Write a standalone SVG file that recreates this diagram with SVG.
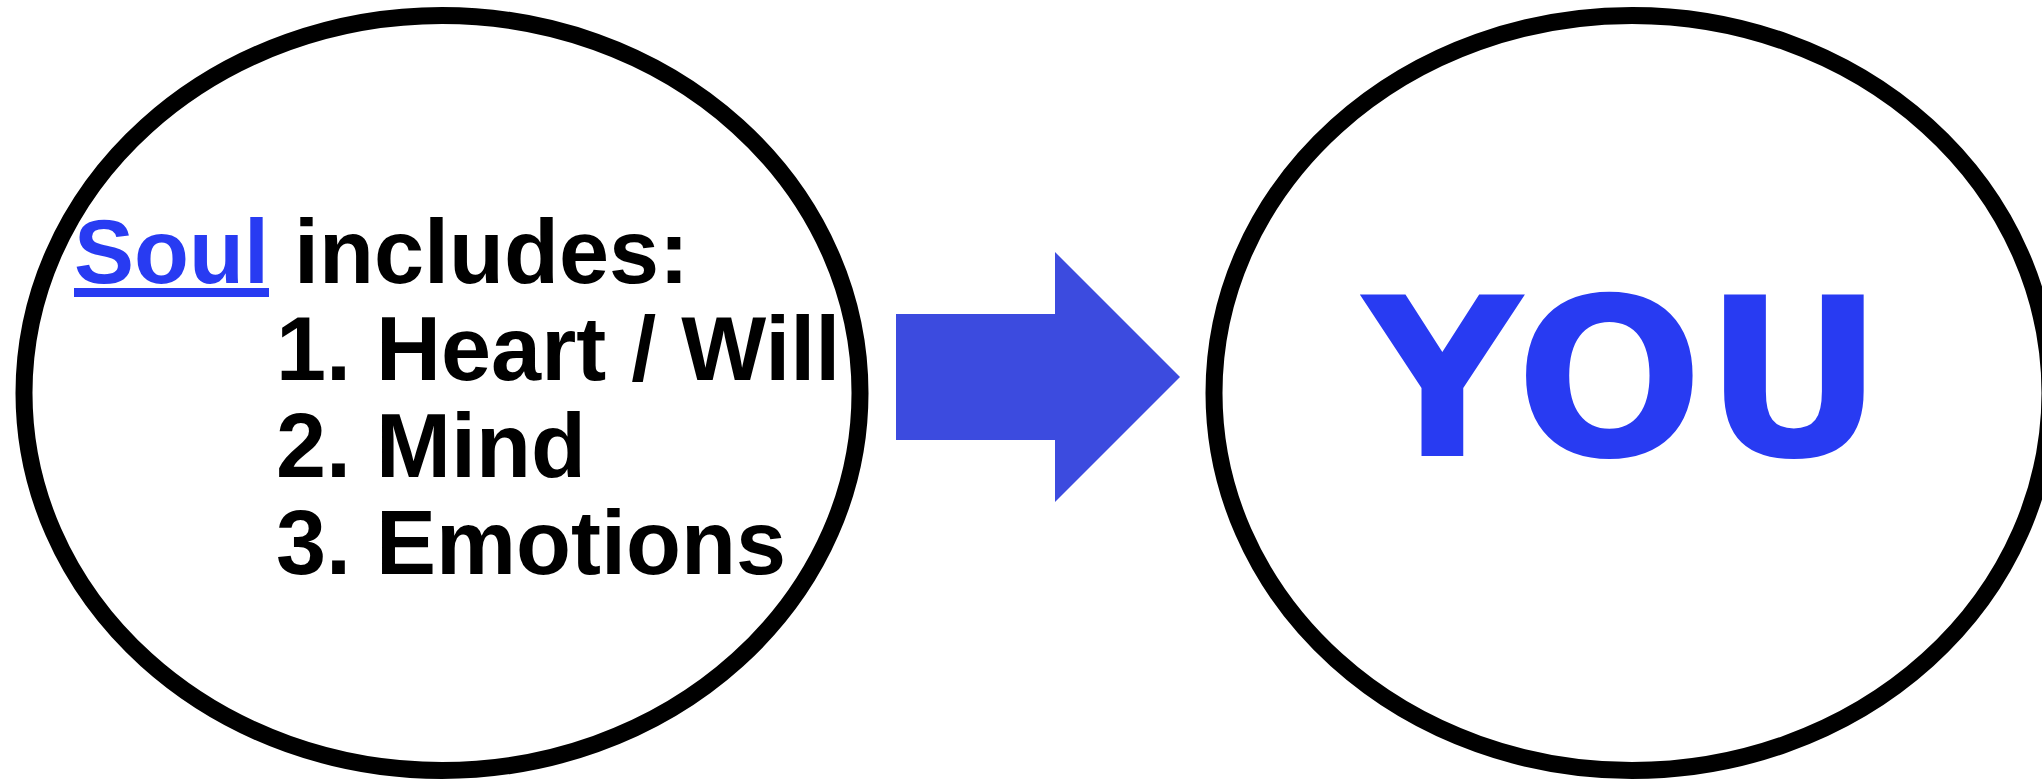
<svg xmlns="http://www.w3.org/2000/svg" width="2042" height="780" viewBox="0 0 2042 780">
<style>
.ring{fill:none;stroke:#000;stroke-width:17}
.lbl{font-family:"Liberation Sans",Arial,sans-serif;font-weight:bold;font-size:90px;fill:#000}
.blue{fill:#283BF2}
.you{font-family:"DejaVu Sans",sans-serif;font-weight:bold;font-size:222px;fill:#283BF2}
</style>
<rect width="2042" height="780" fill="#fff"/>
<g id="soul">
<ellipse class="ring" cx="442" cy="393" rx="418" ry="377.5"/>
<text class="lbl" x="74" y="283"><tspan class="blue" text-decoration="underline">Soul</tspan> includes:</text>
<text class="lbl" x="276" y="380">1. Heart / Will</text>
<text class="lbl" x="276" y="477">2. Mind</text>
<text class="lbl" x="276" y="574">3. Emotions</text>
</g>
<g id="connectors">
<polygon points="896,314 1055,314 1055,252 1180,377 1055,502 1055,440 896,440" fill="#3C4BDF"/>
</g>
<g id="you">
<ellipse class="ring" cx="1632" cy="393" rx="418" ry="377.5"/>
<text class="you" x="1623" y="456" text-anchor="middle">YOU</text>
</g>
</svg>
